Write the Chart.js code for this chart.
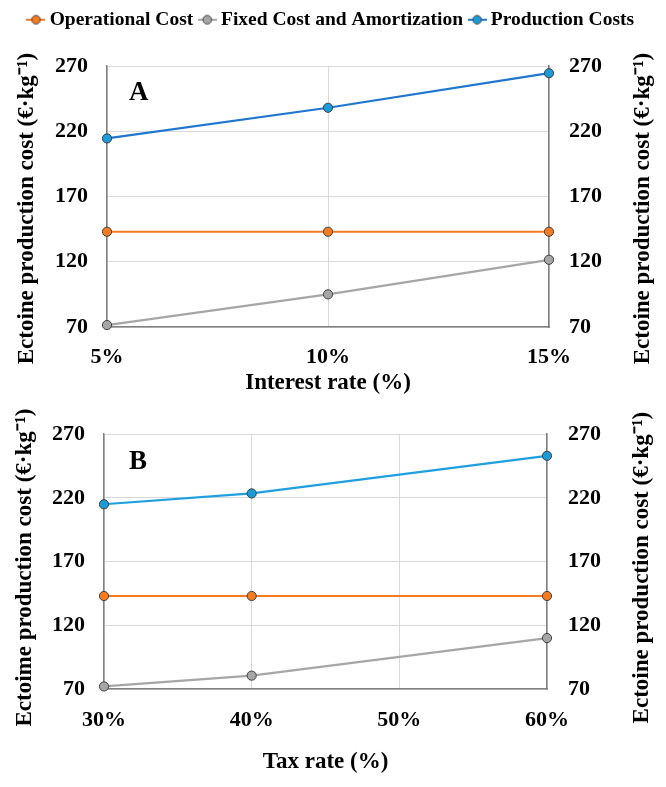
<!DOCTYPE html>
<html><head><meta charset="utf-8">
<script src="https://cdn.jsdelivr.net/npm/chart.js@4"></script>
<style>
html,body{margin:0;padding:0;background:#fff;width:666px;height:787px;overflow:hidden}
.box{position:absolute;left:0;width:666px}
#boxA{top:0;height:400px}
#boxB{top:400px;height:387px}
</style></head><body>
<div class="box" id="boxA"><canvas id="cA"></canvas></div>
<div class="box" id="boxB"><canvas id="cB"></canvas></div>
<script>
// ---- data ----
const seriesNames = ['Operational Cost', 'Fixed Cost and Amortization', 'Production Costs'];
const interestRates = [5, 10, 15];
const interestOperational = [143, 143, 143];
const interestFixed = [71.5, 95, 121.5];
const interestProduction = [214.5, 238, 264.5];
const taxRates = [30, 40, 60];
const taxOperational = [143, 143, 143];
const taxFixed = [72, 80.5, 110];
const taxProduction = [215, 223.5, 253];
const yTicks = [70, 120, 170, 220, 270];
const xTicksA = [5, 10, 15];
const xTicksB = [30, 40, 50, 60];
const xTitleA = 'Interest rate (%)';
const xTitleB = 'Tax rate (%)';
const yTitleA = 'Ectoine production cost (€·kg⁻¹)';
const yTitleBLeft = 'Ectoime production cost (€·kg⁻¹)';
const yTitleBRight = 'Ectoine production cost (€·kg⁻¹)';

// ---- styles ----
const FONT = '"Liberation Serif", "Times New Roman", serif';
const colOrange = '#F47B20', colGray = '#A6A6A6', colBlueA = '#1E76CE', colBlueB = '#1E9FE0', colBluePt = '#1B9BD8';
const ptBorder = '#404040';

function legendIcon(line, fill) {
  const c = document.createElement('canvas');
  c.width = 19; c.height = 12;
  const g = c.getContext('2d');
  g.strokeStyle = line; g.lineWidth = 2;
  g.beginPath(); g.moveTo(0, 6); g.lineTo(19, 6); g.stroke();
  g.beginPath(); g.arc(9.5, 6, 4.3, 0, Math.PI * 2); g.fillStyle = fill; g.fill();
  g.lineWidth = 1; g.strokeStyle = ptBorder; g.stroke();
  return c;
}
const icons = [legendIcon(colOrange, colOrange), legendIcon(colGray, colGray), legendIcon(colBlueA, colBluePt)];

const legendSpace = {
  id: 'legendSpace',
  afterInit(chart, args, o) {
    const lg = chart.legend;
    if (!lg || !o || !o.height) return;
    const fit = lg.fit;
    lg.fit = function () { fit.call(this); this.height = Math.max(this.height, o.height); };
  }
};

const decor = {
  id: 'decor',
  afterDraw(chart, args, o) {
    const {ctx, chartArea} = chart;
    ctx.save();
    ctx.fillStyle = '#000';
    ctx.font = 'bold 27px ' + FONT;
    ctx.textAlign = 'left'; ctx.textBaseline = 'alphabetic';
    ctx.fillText(o.letter, chartArea.left + o.letterDx, chartArea.top + o.letterDy);
    ctx.font = 'bold 23px ' + FONT;
    ctx.textAlign = 'center'; ctx.textBaseline = 'middle';
    const cy = (chartArea.top + chartArea.bottom) / 2 + o.titleDy;
    const yl = chart.scales.y, yr = chart.scales.y2;
    ctx.save();
    ctx.translate(yl.left + o.leftInset, cy);
    ctx.rotate(-Math.PI / 2);
    ctx.fillText(o.leftTitle, 0, 0);
    ctx.restore();
    ctx.save();
    ctx.translate(yr.right - o.rightInset, cy);
    ctx.rotate(-Math.PI / 2);
    ctx.fillText(o.rightTitle, 0, 0);
    ctx.restore();
    ctx.restore();
  }
};

function ds(label, xs, ys, line, fill) {
  return {
    label, data: xs.map((x, i) => ({x, y: ys[i]})),
    borderColor: line, backgroundColor: fill, borderWidth: 2.2,
    pointRadius: 4.6, pointBackgroundColor: fill, pointBorderColor: ptBorder, pointBorderWidth: 1,
    tension: 0, fill: false, clip: false
  };
}

function makeChart(id, cfg) {
  const tickFont = {family: FONT, size: 22, weight: 'bold'};
  return new Chart(document.getElementById(id), {
    type: 'line',
    data: {datasets: cfg.datasets},
    options: {
      responsive: true, maintainAspectRatio: false, animation: false, events: [],
      layout: {padding: {top: cfg.padTop, left: 0, right: 0, bottom: 0}},
      plugins: {
        tooltip: {enabled: false},
        legend: cfg.legend,
        legendSpace: {height: cfg.legendHeight},
        decor: cfg.decor
      },
      scales: {
        x: {
          type: 'linear', min: cfg.xTicks[0], max: cfg.xTicks[cfg.xTicks.length - 1],
          afterBuildTicks: s => { s.ticks = cfg.xTicks.map(v => ({value: v})); },
          afterFit: s => { s.height = cfg.xHeight; },
          grid: {color: '#D9D9D9', lineWidth: 1, drawTicks: false},
          border: {color: '#808080', width: 1.5},
          ticks: {font: tickFont, color: '#000', padding: cfg.xTickPad, maxRotation: 0, callback: v => v + '%'},
          title: {display: true, text: cfg.xTitle, color: '#000', font: {family: FONT, size: 23, weight: 'bold'}, padding: {top: 0, bottom: cfg.xTitlePad}}
        },
        y: {
          type: 'linear', position: 'left', min: 70, max: 270,
          afterBuildTicks: s => { s.ticks = yTicks.map(v => ({value: v})); },
          afterFit: s => { s.width = cfg.leftW; },
          grid: {color: '#D9D9D9', lineWidth: 1, drawTicks: false},
          border: {color: '#808080', width: 1.5},
          ticks: {font: tickFont, color: '#000', padding: cfg.leftTickPad}
        },
        y2: {
          type: 'linear', position: 'right', min: 70, max: 270, display: true,
          afterBuildTicks: s => { s.ticks = yTicks.map(v => ({value: v})); },
          afterFit: s => { s.width = cfg.rightW; },
          grid: {display: false, drawTicks: false},
          border: {color: '#808080', width: 1.5},
          ticks: {font: tickFont, color: '#000', padding: cfg.rightTickPad}
        }
      }
    },
    plugins: [legendSpace, decor]
  });
}

makeChart('cA', {
  datasets: [
    ds(seriesNames[0], interestRates, interestOperational, colOrange, colOrange),
    ds(seriesNames[1], interestRates, interestFixed, colGray, colGray),
    ds(seriesNames[2], interestRates, interestProduction, colBlueA, colBluePt)
  ],
  padTop: 0,
  legendHeight: 66,
  legend: {
    display: true, position: 'top', align: 'center',
    labels: {
      font: {family: FONT, size: 19.5, weight: 'bold'}, color: '#000',
      usePointStyle: true, pointStyleWidth: 8, padding: 10,
      generateLabels(chart) {
        const items = Chart.defaults.plugins.legend.labels.generateLabels(chart);
        items.forEach(it => { it.pointStyle = icons[it.datasetIndex]; });
        return items;
      }
    }
  },
  xTicks: xTicksA, xHeight: 73, xTickPad: 17, xTitle: xTitleA, xTitlePad: 3,
  leftW: 107, leftTickPad: 19, rightW: 117, rightTickPad: 20,
  decor: {letter: 'A', letterDx: 22, letterDy: 34, leftTitle: yTitleA, rightTitle: yTitleA, leftInset: 27, rightInset: 23, titleDy: 12}
});

makeChart('cB', {
  datasets: [
    ds(seriesNames[0], taxRates, taxOperational, colOrange, colOrange),
    ds(seriesNames[1], taxRates, taxFixed, colGray, colGray),
    ds(seriesNames[2], taxRates, taxProduction, colBlueB, colBluePt)
  ],
  padTop: 24,
  legendHeight: 0,
  legend: {display: false},
  xTicks: xTicksB, xHeight: 98, xTickPad: 18, xTitle: xTitleB, xTitlePad: 11,
  leftW: 104, leftTickPad: 19, rightW: 119, rightTickPad: 21,
  decor: {letter: 'B', letterDx: 25, letterDy: 35, leftTitle: yTitleBLeft, rightTitle: yTitleBRight, leftInset: 25, rightInset: 24, titleDy: 6}
});
</script>
</body></html>
